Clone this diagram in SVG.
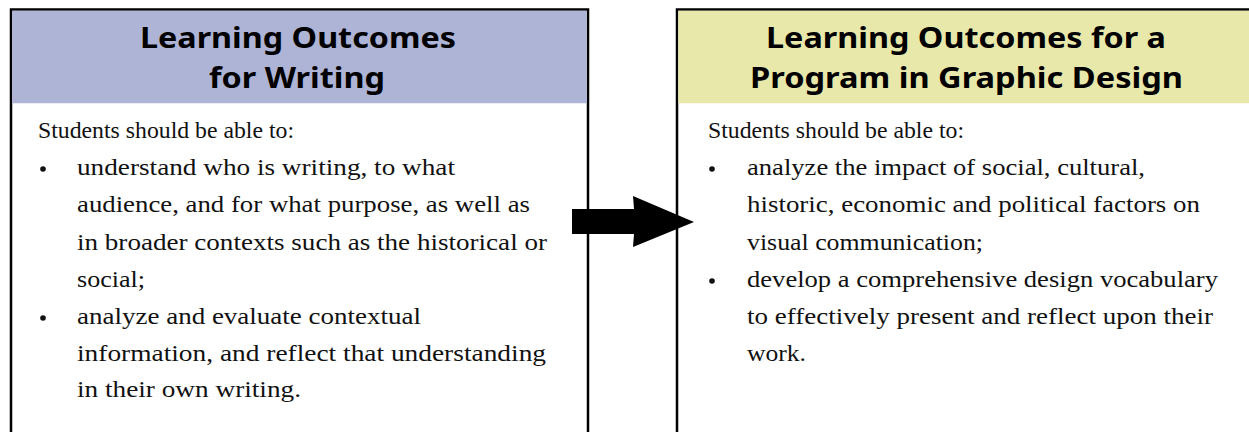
<svg xmlns="http://www.w3.org/2000/svg" width="1249" height="432" viewBox="0 0 1249 432">
<style>
.box{fill:#fff;stroke:#000;stroke-width:2.5}
.title{font-family:"Noto Sans","Liberation Sans",sans-serif;font-weight:700;font-size:28px;fill:#000}
.body{font-family:"Liberation Serif","DejaVu Serif",serif;font-size:22.5px;fill:#111}
</style>
<rect width="1249" height="432" fill="#fff"/>
<g id="node-writing">
<rect class="box" x="11" y="9.5" width="577" height="440"/>
<rect x="12.25" y="10.75" width="574.5" height="92.5" fill="#aeb4d6"/>
<text class="title" x="140" y="48" textLength="316" lengthAdjust="spacingAndGlyphs">Learning Outcomes</text>
<text class="title" x="209" y="88" textLength="176" lengthAdjust="spacingAndGlyphs">for Writing</text>
<text class="body" x="38" y="138" textLength="256" lengthAdjust="spacingAndGlyphs">Students should be able to:</text>
<circle cx="43" cy="169" r="2.8" fill="#111"/>
<text class="body" x="77" y="175" textLength="378" lengthAdjust="spacingAndGlyphs">understand who is writing, to what</text>
<text class="body" x="77" y="212" textLength="453" lengthAdjust="spacingAndGlyphs">audience, and for what purpose, as well as</text>
<text class="body" x="77" y="250" textLength="470" lengthAdjust="spacingAndGlyphs">in broader contexts such as the historical or</text>
<text class="body" x="77" y="287" textLength="68" lengthAdjust="spacingAndGlyphs">social;</text>
<circle cx="43" cy="318" r="2.8" fill="#111"/>
<text class="body" x="77" y="324" textLength="344" lengthAdjust="spacingAndGlyphs">analyze and evaluate contextual</text>
<text class="body" x="77" y="361" textLength="469" lengthAdjust="spacingAndGlyphs">information, and reflect that understanding</text>
<text class="body" x="77" y="397" textLength="224" lengthAdjust="spacingAndGlyphs">in their own writing.</text>
</g>
<g id="node-graphic-design">
<rect class="box" x="677" y="9.5" width="580" height="440"/>
<rect x="678.25" y="10.75" width="580" height="92.5" fill="#e8e8ab"/>
<text class="title" x="766" y="48" textLength="400" lengthAdjust="spacingAndGlyphs">Learning Outcomes for a</text>
<text class="title" x="750" y="88" textLength="433" lengthAdjust="spacingAndGlyphs">Program in Graphic Design</text>
<text class="body" x="708" y="138" textLength="256" lengthAdjust="spacingAndGlyphs">Students should be able to:</text>
<circle cx="712" cy="169" r="2.8" fill="#111"/>
<text class="body" x="747" y="175" textLength="398" lengthAdjust="spacingAndGlyphs">analyze the impact of social, cultural,</text>
<text class="body" x="747" y="212" textLength="453" lengthAdjust="spacingAndGlyphs">historic, economic and political factors on</text>
<text class="body" x="747" y="250" textLength="236" lengthAdjust="spacingAndGlyphs">visual communication;</text>
<circle cx="712" cy="281" r="2.8" fill="#111"/>
<text class="body" x="747" y="287" textLength="471" lengthAdjust="spacingAndGlyphs">develop a comprehensive design vocabulary</text>
<text class="body" x="747" y="324" textLength="466" lengthAdjust="spacingAndGlyphs">to effectively present and reflect upon their</text>
<text class="body" x="747" y="361" textLength="59" lengthAdjust="spacingAndGlyphs">work.</text>
</g>
<g id="connectors">
<polygon points="572,209 634,209 633,196 694,222 633,247 634,234 572,234" fill="#000"/>
</g>
</svg>
